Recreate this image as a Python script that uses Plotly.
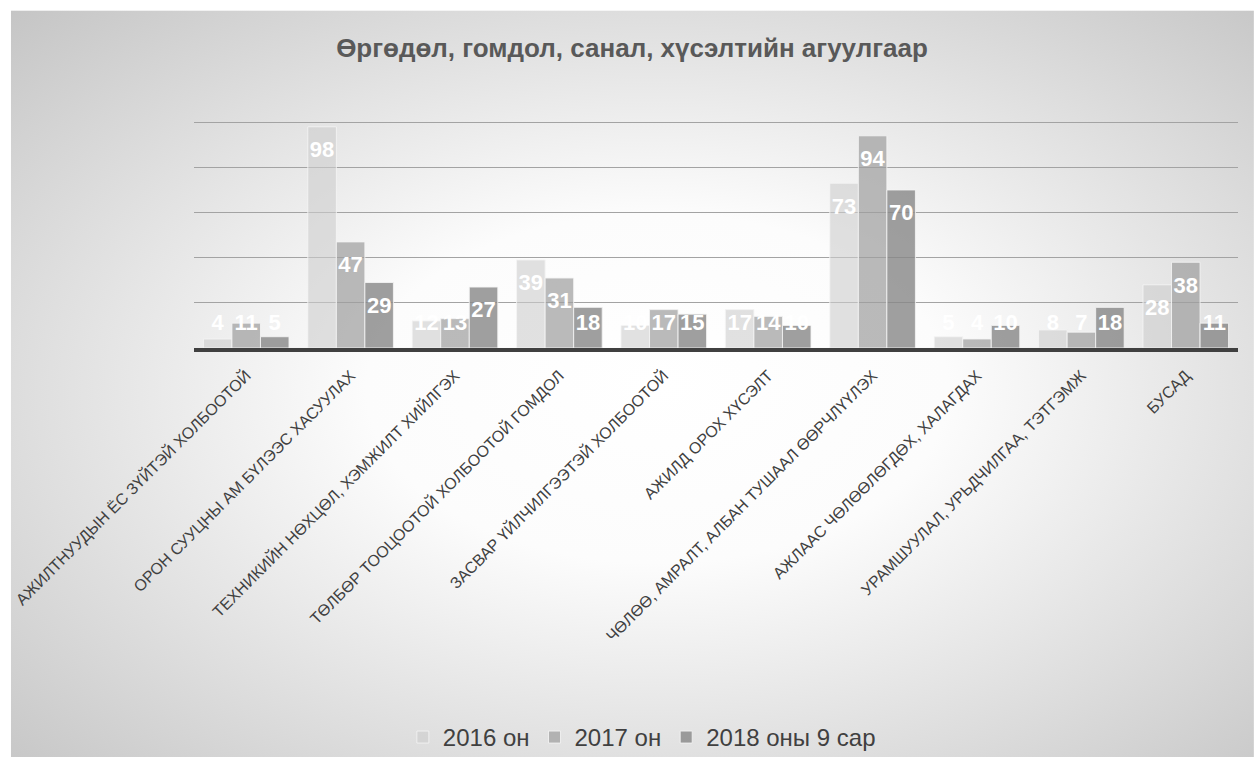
import base64
import plotly.graph_objects as go

categories = [
    "АЖИЛТНУУДЫН ЁС ЗҮЙТЭЙ ХОЛБООТОЙ",
    "ОРОН СУУЦНЫ АМ БҮЛЭЭС ХАСУУЛАХ",
    "ТЕХНИКИЙН НӨХЦӨЛ, ХЭМЖИЛТ ХИЙЛГЭХ",
    "ТӨЛБӨР ТООЦООТОЙ ХОЛБООТОЙ ГОМДОЛ",
    "ЗАСВАР ҮЙЛЧИЛГЭЭТЭЙ ХОЛБООТОЙ",
    "АЖИЛД ОРОХ ХҮСЭЛТ",
    "ЧӨЛӨӨ, АМРАЛТ, АЛБАН ТУШААЛ ӨӨРЧЛҮҮЛЭХ",
    "АЖЛААС ЧӨЛӨӨЛӨГДӨХ, ХАЛАГДАХ",
    "УРАМШУУЛАЛ, УРЬДЧИЛГАА, ТЭТГЭМЖ",
    "БУСАД",
]
series_names = ["2016 он", "2017 он", "2018 оны 9 сар"]
values_2016 = [4, 98, 12, 39, 10, 17, 73, 5, 8, 28]
values_2017 = [11, 47, 13, 31, 17, 14, 94, 4, 7, 38]
values_2018 = [5, 29, 27, 18, 15, 10, 70, 10, 18, 11]

all_values = [values_2016, values_2017, values_2018]
colors = ["rgba(205,205,205,0.6)", "rgba(160,160,160,0.72)", "rgba(135,135,135,0.8)"]

FONT = "Liberation Sans, Arial, sans-serif"

W, H = 1254, 771
BGX, BGY = 5, 8  # top-left of the grey chart area
BW, BH = W - BGX, H - BGY

svg = f"""<svg xmlns='http://www.w3.org/2000/svg' width='{BW}' height='{BH}' viewBox='0 0 {BW} {BH}' preserveAspectRatio='none'>
<defs><radialGradient id='g' cx='0.52' cy='0.52' r='0.78' fx='0.52' fy='0.5'>
<stop offset='0' stop-color='#ffffff'/>
<stop offset='0.3' stop-color='#fcfcfc'/>
<stop offset='1' stop-color='#c0c0c0'/>
</radialGradient></defs>
<rect width='{BW}' height='{BH}' fill='url(#g)'/>
</svg>"""
bg_uri = "data:image/svg+xml;base64," + base64.b64encode(svg.encode("utf-8")).decode("ascii")

fig = go.Figure()
for i, (name, vals) in enumerate(zip(series_names, all_values)):
    fig.add_trace(go.Bar(
        x=categories, y=vals, name=name,
        offsetgroup=str(i),
        marker=dict(color=colors[i], line=dict(color="rgba(245,245,245,0.85)", width=1)),
        hoverinfo="skip",
    ))

for i, vals in enumerate(all_values):
    label_y = [max(v - 11, 10.4) for v in vals]
    fig.add_trace(go.Scatter(
        x=categories, y=label_y, mode="text",
        text=[str(v) for v in vals],
        textfont=dict(family=FONT, size=22, color="white", weight="bold"),
        offsetgroup=str(i), showlegend=False, hoverinfo="skip",
    ))

YMAX = 101
# plot area in page pixels: x 189..1238, y(0)=353, y(100)=122
L = 189
R = W - 1238
B = H - 353
T = int(round(122 - (YMAX - 100) * 2.3))
pw, ph = W - L - R, H - T - B

fig.update_layout(
    width=W, height=H,
    margin=dict(l=L, r=R, t=T, b=B),
    paper_bgcolor="white", plot_bgcolor="rgba(0,0,0,0)",
    barmode="group", bargap=0.18, bargroupgap=0,
    scattermode="group", scattergap=0.18,
    font=dict(family=FONT, color="#404040"),
    title=dict(
        text="<b>Өргөдөл, гомдол, санал, хүсэлтийн агуулгаар</b>",
        font=dict(family=FONT, size=26, color="#595959"),
        xref="container", yref="container", x=632 / W, y=1 - 48 / H,
        xanchor="center", yanchor="middle",
    ),
    legend=dict(
        orientation="h", xanchor="center", yanchor="middle",
        x=(639 - L) / pw, y=(H - B - 751) / ph,
        font=dict(family=FONT, size=24, color="#404040"),
        bgcolor="rgba(0,0,0,0)", itemwidth=30, traceorder="normal",
    ),
    images=[dict(
        source=bg_uri, xref="paper", yref="paper",
        x=(BGX - L) / pw, y=(H - B - BGY) / ph,
        sizex=BW / pw, sizey=BH / ph,
        xanchor="left", yanchor="top", sizing="stretch", layer="below",
    )],
    xaxis=dict(
        type="category", tickangle=-45,
        tickfont=dict(family=FONT, size=16, color="#404040"),
        showline=True, linecolor="#404040", linewidth=4,
        ticks="", showgrid=False, ticklabelstandoff=8,
    ),
    yaxis=dict(
        range=[0, YMAX], showticklabels=False, showgrid=True,
        gridcolor="#a3a3a3", gridwidth=1, tickvals=[20, 40, 60, 80, 100],
        zeroline=False, showline=False, fixedrange=True,
    ),
)

fig.write_html(
    "out.html",
    config={"displayModeBar": False},
    post_script="document.body.style.margin='0';document.body.style.overflow='hidden';",
)
